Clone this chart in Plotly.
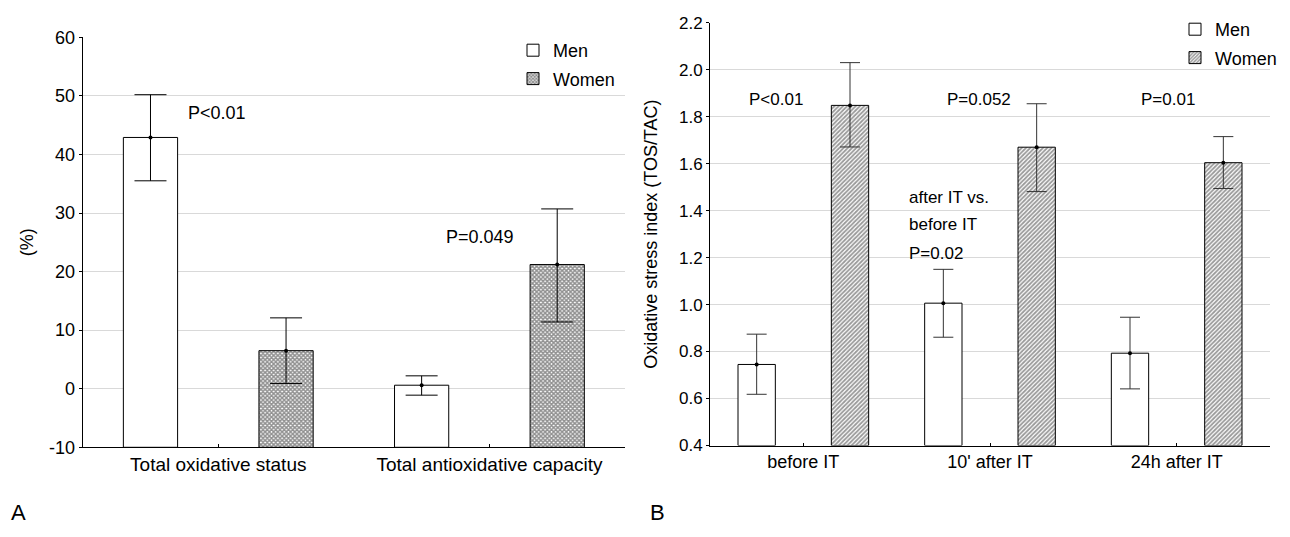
import plotly.graph_objects as go

# ---------------- Data: panel A ----------------
tests_a = ["Total oxidative status", "Total antioxidative capacity"]
men_a = [42.9, 0.6]
men_a_hi = [50.2, 2.2]
men_a_lo = [35.5, -1.1]
women_a = [6.5, 21.2]
women_a_hi = [12.1, 30.7]
women_a_lo = [0.9, 11.4]
ticks_a = [-10, 0, 10, 20, 30, 40, 50, 60]
grid_a = [0, 10, 20, 30, 40, 50]
base_a = -10

# ---------------- Data: panel B ----------------
times_b = ["before IT", "10' after IT", "24h after IT"]
men_b = [0.745, 1.006, 0.793]
men_b_hi = [0.874, 1.150, 0.946]
men_b_lo = [0.618, 0.861, 0.641]
women_b = [1.848, 1.670, 1.604]
women_b_hi = [2.030, 1.855, 1.715]
women_b_lo = [1.671, 1.481, 1.494]
ticks_b = [0.4, 0.6, 0.8, 1.0, 1.2, 1.4, 1.6, 1.8, 2.0, 2.2]
grid_b = [0.6, 0.8, 1.0, 1.2, 1.4, 1.6, 1.8, 2.0]
base_b = 0.4

FONT = "Liberation Sans, Arial, sans-serif"
OFF = 8                      # page body margin
W, H = 1290 - OFF, 537 - OFF


def px(v):
    return (v - OFF) / W


def py(v):
    return 1 - (v - OFF) / H


def plus(v, hi):
    return [h - m for m, h in zip(v, hi)]


def minus(v, lo):
    return [m - l for m, l in zip(v, lo)]


fig = go.Figure()


def add_group(x, y, hi, lo, base, name, xa, ya, legend, agroup, pattern, ecolor, ewidth):
    marker = dict(color="white", line=dict(color="black", width=1))
    if pattern:
        marker["pattern"] = pattern
    fig.add_trace(go.Bar(
        x=x, y=[v - base for v in y], base=base, name=name,
        xaxis=xa, yaxis=ya, legend=legend, legendgroup=name,
        marker=marker, offsetgroup=name, alignmentgroup=agroup,
        hoverinfo="skip",
    ))
    fig.add_trace(go.Scatter(
        x=x, y=y, mode="markers", xaxis=xa, yaxis=ya, showlegend=False,
        offsetgroup=name, alignmentgroup=agroup,
        marker=dict(color="black", size=4), hoverinfo="skip",
        error_y=dict(type="data", symmetric=False, array=plus(y, hi),
                     arrayminus=minus(y, lo), color=ecolor, thickness=1,
                     width=ewidth),
    ))


pat_a = dict(shape="x", fgcolor="#222222", bgcolor="white", size=3, solidity=0.75)
pat_b = dict(shape="/", fgcolor="#333333", bgcolor="white", size=3, solidity=0.6)

add_group(tests_a, men_a, men_a_hi, men_a_lo, base_a, "Men", "x", "y", "legend", "A", None, "black", 16)
add_group(tests_a, women_a, women_a_hi, women_a_lo, base_a, "Women", "x", "y", "legend", "A", pat_a, "black", 16)
add_group(times_b, men_b, men_b_hi, men_b_lo, base_b, "Men", "x2", "y2", "legend2", "B", None, "#333", 10)
add_group(times_b, women_b, women_b_hi, women_b_lo, base_b, "Women", "x2", "y2", "legend2", "B", pat_b, "#333", 10)

# domains from pixel layout of the reference
xa_dom = [px(82.7), px(625)]
ya_dom = [py(447.3), py(37.3)]
xb_dom = [px(710), px(1270)]
yb_dom = [py(445.5), py(22.7)]

axis_common = dict(showline=True, linecolor="black", linewidth=1, mirror=False,
                   zeroline=False, showgrid=False, automargin=False)

fig.update_layout(
    width=W, height=H,
    margin=dict(l=0, r=0, t=0, b=0, autoexpand=False),
    paper_bgcolor="white", plot_bgcolor="white",
    font=dict(family=FONT, color="black", size=18),
    barmode="group", bargap=0, bargroupgap=0.6,
    scattermode="group", scattergap=0,
    xaxis=dict(domain=xa_dom, anchor="y", type="category",
               ticks="inside", ticklen=3, tickcolor="black",
               tickfont=dict(size=19), **axis_common),
    yaxis=dict(domain=ya_dom, anchor="x", range=[-10, 60],
               tickmode="array", tickvals=ticks_a,
               ticktext=[str(v) for v in ticks_a],
               ticks="outside", ticklen=3,
               tickcolor="black", tickfont=dict(size=18),
               title=dict(text="(%)", font=dict(size=18), standoff=10),
               minor=dict(tickmode="array", tickvals=grid_a, showgrid=True,
                          gridcolor="#d9d9d9", gridwidth=1, ticks=""),
               **axis_common),
    xaxis2=dict(domain=xb_dom, anchor="y2", type="category",
                ticks="inside", ticklen=3, tickcolor="black",
                tickfont=dict(size=18), **axis_common),
    yaxis2=dict(domain=yb_dom, anchor="x2", range=[0.4, 2.2],
                tickmode="array", tickvals=ticks_b, tickformat=".1f",
                ticks="outside", ticklen=3, tickcolor="black",
                tickfont=dict(size=17),
                title=dict(text="Oxidative stress index (TOS/TAC)",
                           font=dict(size=18), standoff=16),
                minor=dict(tickmode="array", tickvals=grid_b, showgrid=True,
                           gridcolor="#d9d9d9", gridwidth=1, ticks=""),
                **axis_common),
    legend=dict(x=px(513), xanchor="left", y=py(32), yanchor="top",
                bgcolor="rgba(0,0,0,0)", font=dict(size=18), tracegroupgap=2,
                itemclick=False),
    legend2=dict(x=px(1175), xanchor="left", y=py(11), yanchor="top",
                 bgcolor="rgba(0,0,0,0)", font=dict(size=18), tracegroupgap=2,
                 itemclick=False),
    showlegend=True,
)

ann = []
# panel A p-values
ann.append(dict(text="P<0.01", x=-0.118, y=47, xref="x", yref="y",
                xanchor="left", yanchor="middle", showarrow=False, font=dict(size=18)))
ann.append(dict(text="P=0.049", x=0.833, y=25.9, xref="x", yref="y",
                xanchor="left", yanchor="middle", showarrow=False, font=dict(size=18)))
# panel B p-values
for txt, xv in [("P<0.01", -0.30), ("P=0.052", 0.76), ("P=0.01", 1.80)]:
    ann.append(dict(text=txt, x=xv, y=1.871, xref="x2", yref="y2",
                    xanchor="left", yanchor="middle", showarrow=False, font=dict(size=17)))
for txt, yv in [("after IT vs.", 1.454), ("before IT", 1.339), ("P=0.02", 1.219)]:
    ann.append(dict(text=txt, x=0.554, y=yv, xref="x2", yref="y2",
                    xanchor="left", yanchor="middle", showarrow=False, font=dict(size=17)))
# panel letters
ann.append(dict(text="A", x=px(9), y=py(512), xref="paper", yref="paper",
                xanchor="left", yanchor="middle", showarrow=False, font=dict(size=22)))
ann.append(dict(text="B", x=px(648), y=py(512), xref="paper", yref="paper",
                xanchor="left", yanchor="middle", showarrow=False, font=dict(size=22)))
fig.update_layout(annotations=ann)

fig.write_html("out.html")
